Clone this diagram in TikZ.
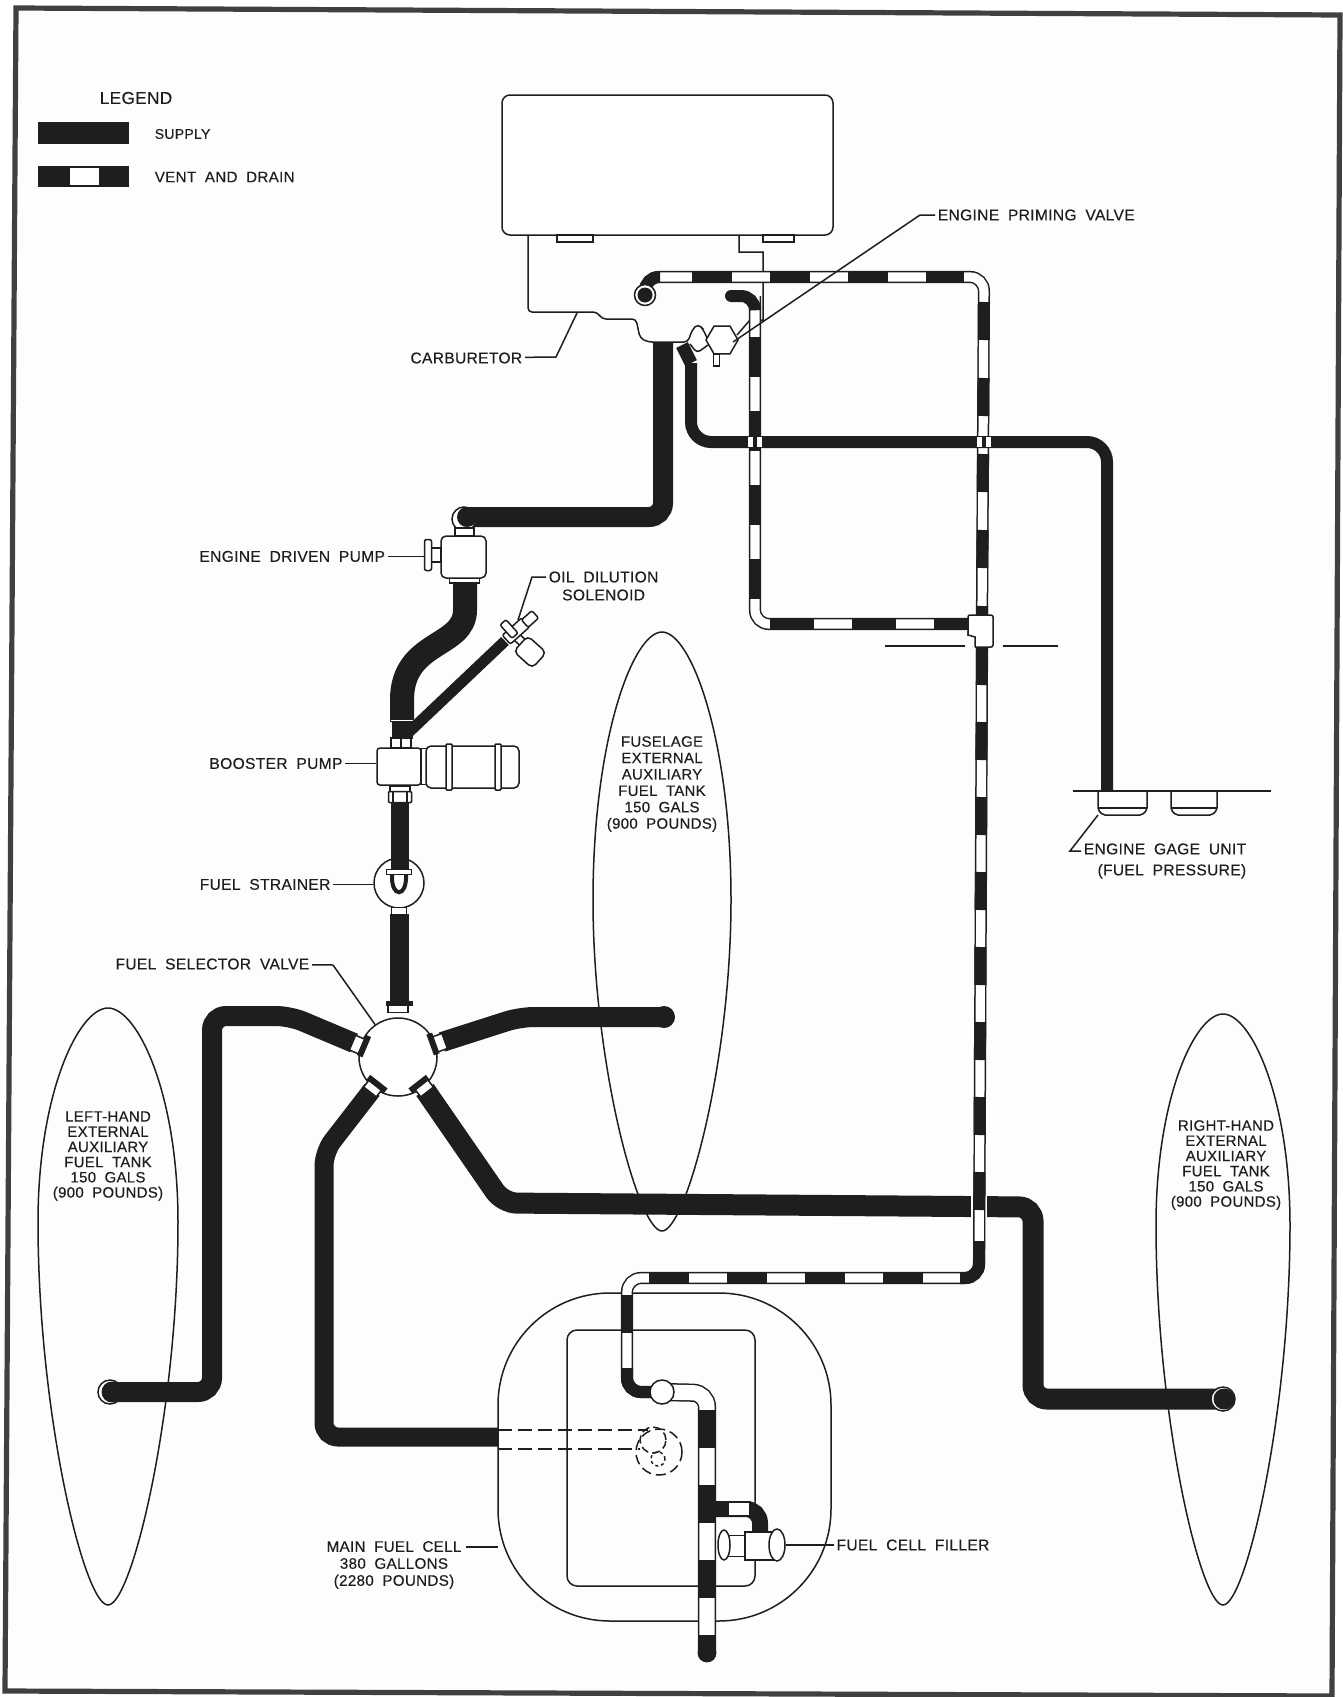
\documentclass[tikz,border=0pt]{standalone}
\usepackage{fontspec}
\setmainfont[LetterSpace=2,WordSpace=1.9,FakeBold=0.25]{Liberation Sans}
\usetikzlibrary{positioning, calc, shapes.geometric}
\definecolor{ink}{HTML}{1E1E1E}
\definecolor{paper}{HTML}{FDFDFC}

\begin{document}
\begin{tikzpicture}[x=0.5pt, y=-0.5pt,
    thin line/.style={draw=ink, line width=0.75pt},
    part/.style={rectangle, thin line, fill=white, inner sep=0pt, rounded corners=2.5pt},
    flat/.style={rectangle, thin line, fill=white, inner sep=0pt},
    supply/.style={draw=ink, line width=10pt, rounded corners=7pt},
    ventbase/.style={draw=ink, line width=0.75pt, double=white, double distance=4.6pt, rounded corners=7pt},
    ventrun/.style={draw=ink, line width=6pt, rounded corners=7pt},
    portbar/.style={rectangle, fill=ink, inner sep=0pt, minimum width=3pt, minimum height=11pt},
    portneck/.style={flat, minimum width=6pt, minimum height=8pt},
    ring/.style={circle, thin line, fill=white, inner sep=0pt, minimum size=12pt},
    blob/.style={circle, fill=ink, inner sep=0pt, minimum size=10pt},
    leader/.style={thin line},
    lbl/.style={font=\fontsize{7.8}{9}\selectfont, inner sep=1.2pt, align=center, text=ink},
    tanklbl/.style={font=\fontsize{7.5}{7.6}\selectfont, inner sep=0pt, align=center, text=ink},
    celllbl/.style={font=\fontsize{7.6}{8.5}\selectfont, inner sep=1.2pt, align=center, text=ink},
  ]
    \useasboundingbox (0,0) rectangle (1343,1697);
    \fill[white] (0,0) rectangle (1343,1697);
    \fill[paper] (16,8) -- (1340,15) -- (1332,1696) -- (5,1691) -- cycle;
    \draw[draw=ink!85, line width=2.6pt] (16,8) -- (1340,15) -- (1332,1696) -- (5,1691) -- cycle;

    % legend
    \node[lbl, font=\fontsize{8.6}{9}\selectfont] (legendtitle) at (136,98) {LEGEND};
    \node[rectangle, fill=ink, inner sep=0pt, minimum width=45.5pt, minimum height=11pt] (legsupply) at (83.5,133) {};
    \node[rectangle, fill=ink, inner sep=0pt, minimum width=45.5pt, minimum height=10.5pt] (legvent) at (83.5,176.5) {};
    \node[rectangle, fill=white, inner sep=0pt, minimum width=14.5pt, minimum height=8.5pt] (legwhite) at (84.5,176.5) {};
    \node[celllbl, anchor=west, font=\fontsize{7}{8}\selectfont] (legsupplytxt) at (152,134) {SUPPLY};
    \node[celllbl, anchor=west] (legventtxt) at (152,177) {VENT AND DRAIN};

    % carburetor
    \node[part, rounded corners=4pt, minimum width=165.5pt, minimum height=70pt] (carbtop) at (667.5,165) {};
    \node[flat, minimum width=18pt, minimum height=3.5pt] (tabl) at (575,238.5) {};
    \node[flat, minimum width=15.5pt, minimum height=3.5pt] (tabr) at (778.5,238.5) {};
    \draw[thin line, rounded corners=2pt] (528,235) -- (528,312) -- (597,312) -- (602,319) -- (636,319)
      -- (640,338) -- (648,342) -- (688,342) -- (692,330) -- (698,324) -- (703,329) -- (707,338);
    \draw[thin line] (739,235) -- (739,252) -- (763,252) -- (763,320) -- (750,320) -- (737,335);
    \draw[thin line, rounded corners=2pt] (690,344) -- (697,353) -- (708,345);

    % tanks
    \foreach \cx/\ctop/\cmid/\cbot/\hw in {108/1008/1222/1605/70, 1223/1014/1225/1605/67, 662/632/900/1231/69}{
      \draw[thin line] (\cx,\ctop)
        .. controls ({\cx+0.42*\hw},\ctop) and ({\cx+\hw},{\cmid-0.6*(\cmid-\ctop)}) .. ({\cx+\hw},\cmid)
        .. controls ({\cx+\hw},{\cmid+0.5*(\cbot-\cmid)}) and ({\cx+0.34*\hw},\cbot) .. (\cx,\cbot)
        .. controls ({\cx-0.34*\hw},\cbot) and ({\cx-\hw},{\cmid+0.5*(\cbot-\cmid)}) .. ({\cx-\hw},\cmid)
        .. controls ({\cx-\hw},{\cmid-0.6*(\cmid-\ctop)}) and ({\cx-0.42*\hw},\ctop) .. (\cx,\ctop);
    }
    \node[tanklbl] (lefttank) at (108,1156) {LEFT-HAND\\EXTERNAL\\AUXILIARY\\FUEL TANK\\150 GALS\\(900 POUNDS)};
    \node[tanklbl] (righttank) at (1226,1165) {RIGHT-HAND\\EXTERNAL\\AUXILIARY\\FUEL TANK\\150 GALS\\(900 POUNDS)};
    \node[tanklbl, font=\fontsize{7.5}{8.2}\selectfont] (fuseltank) at (662,784) {FUSELAGE\\EXTERNAL\\AUXILIARY\\FUEL TANK\\150 GALS\\(900 POUNDS)};

    % main fuel cell
    \node[rectangle, thin line, inner sep=0pt, rounded corners=56pt, minimum width=166.5pt, minimum height=164pt] (maincell) at (664.5,1457) {};
    \node[rectangle, thin line, inner sep=0pt, rounded corners=5pt, minimum width=94pt, minimum height=128pt] (innercell) at (661,1458) {};
    \draw[thin line, dashed, dash pattern=on 7pt off 3pt] (498,1430) -- (648,1430);
    \draw[thin line, dashed, dash pattern=on 7pt off 3pt] (498,1449) -- (640,1449);
    \draw[thin line, dashed, dash pattern=on 5pt off 2.5pt] (659,1452) circle (11.5pt);
    \draw[thin line, dashed, dash pattern=on 4pt off 2pt] (653,1440) circle (6.5pt);
    \draw[thin line, dashed, dash pattern=on 1.5pt off 1.5pt] (658,1459) circle (3.5pt);

    % gage units and lines
    \draw[thin line] (1073,791) -- (1271,791);
    \draw[thin line] (885,646) -- (965,646);
    \draw[thin line] (1003,646) -- (1058,646);
    \foreach \gx/\gw in {1098/1147, 1171/1217}{
      \draw[thin line, rounded corners=1pt] (\gx,791) -- (\gx,810) -- ({\gx+5},815) -- ({\gw-5},815) -- (\gw,810) -- (\gw,791);
      \draw[thin line] (\gx,808) -- (\gw,808);
    }
    \coordinate (gagecorner) at (1107,442);
    \coordinate (gagetop) at (1107,790);

    % selector valve
    \node[circle, thin line, fill=white, inner sep=0pt, minimum size=39pt] (selector) at (398,1057) {};

    % supply
    \coordinate (carbout) at (663,342);
    \coordinate (carbbend) at (663,517);
    \coordinate (elbow) at (466,517);
    \draw[supply] (carbout) -- (carbbend) -- (elbow);
    \coordinate (lefttee) at (354,1043);
    \coordinate (leftbendb) at (290,1016);
    \coordinate (leftbendc) at (212,1016);
    \coordinate (leftbendd) at (212,1392);
    \coordinate (leftend) at (112,1392);
    \draw[supply] (lefttee) -- (leftbendb) -- (leftbendc) -- (leftbendd) -- (leftend);
    \coordinate (fuseltee) at (442,1042);
    \coordinate (fuselbend) at (520,1017);
    \coordinate (fuselend) at (662,1017);
    \draw[supply] (fuseltee) -- (fuselbend) -- (fuselend);
    \coordinate (celltee) at (372,1090);
    \coordinate (cellbendb) at (324,1152);
    \coordinate (cellbendc) at (324,1437);
    \coordinate (cellend) at (498,1437);
    \draw[supply, line width=9.5pt] (celltee) -- (cellbendb) -- (cellbendc) -- (cellend);
    \coordinate (righttee) at (425,1090);
    \coordinate (rightbendb) at (503,1203);
    \coordinate (rightbendc) at (1033,1207);
    \coordinate (rightbendd) at (1033,1399);
    \coordinate (rightend) at (1223,1399);
    \draw[supply, line width=10.5pt] (righttee) -- (rightbendb) -- (rightbendc) -- (rightbendd) -- (rightend);
    \node[rectangle, fill=paper, inner sep=0pt, minimum width=8pt, minimum height=14pt] (ventgap) at (979,1206) {};

    \node[ring] (leftring) at (110,1392) {};
    \node[blob, minimum size=10.5pt] (leftblob) at (112,1392) {};
    \node[ring] (rightring) at (1223,1399) {};
    \node[blob, minimum size=10.5pt] (rightblob) at (1224,1399) {};
    \node[blob, minimum size=11pt] (fuselblob) at (664,1017) {};
    \node[portneck, rotate=-23] (neckul) at (358,1045) {};
    \node[portbar, rotate=-23] (barul) at (364,1046) {};
    \node[portneck, rotate=20] (neckur) at (439,1043) {};
    \node[portbar, rotate=20] (barur) at (433,1044) {};
    \node[portneck, rotate=52, minimum width=5pt] (neckll) at (373,1088) {};
    \node[portbar, rotate=52] (barll) at (377,1084) {};
    \node[portneck, rotate=-52, minimum width=5pt] (necklr) at (424,1088) {};
    \node[portbar, rotate=-52] (barlr) at (419,1084) {};
    \node[flat, minimum width=10pt, minimum height=3.5pt] (necktop) at (398,1009) {};
    \node[rectangle, fill=ink, inner sep=0pt, minimum width=13.5pt, minimum height=2.5pt] (bartop) at (399,1003) {};

    % vent and drain
    \coordinate (ventstart) at (645,295);
    \coordinate (ventbendtl) at (645,277);
    \coordinate (ventbendtr) at (984,277);
    \coordinate (teeup) at (982,616);
    \coordinate (teedown) at (982,647);
    \coordinate (ventbendbr) at (979,1278);
    \coordinate (ventbendbl) at (627,1278);
    \coordinate (ventbendl) at (627,1392);
    \coordinate (floatball) at (662,1392);
    \draw[ventbase] (ventstart) -- (ventbendtl) -- (ventbendtr) -- (teeup) -- (teedown) -- (ventbendbr) -- (ventbendbl) -- (ventbendl) -- (floatball);
    \draw[ventrun] (ventstart) -- (ventbendtl) -- ++(15,0);
    \draw[ventrun, dash pattern=on 20pt off 19pt, dash phase=23pt] (660,277) -- (964,277);
    \draw[ventrun, dash pattern=on 19pt off 19pt] (984,302) -- (teeup);
    \draw[ventrun, dash pattern=on 19pt off 18.5pt] (teedown) -- (979,1242);
    \draw[ventrun] (979,1241) -- (ventbendbr) -- (960,1278);
    \draw[ventrun, dash pattern=on 20pt off 19pt] (649,1278) -- (925,1278);
    \draw[ventrun, dash pattern=on 19pt off 17.5pt] (627,1295) -- (627,1368);
    \draw[ventrun] (627,1368) -- (ventbendl) -- (652,1392);

    \coordinate (drainstart) at (731,296);
    \coordinate (drainbendt) at (755,296);
    \coordinate (drainbendb) at (755,624);
    \coordinate (teeleft) at (969,624);
    \draw[ventbase] (drainbendt) -- (drainbendb) -- (teeleft);
    \draw[ventrun, line cap=round] (drainstart) -- (drainbendt) -- (755,307);
    \draw[ventrun, dash pattern=on 20pt off 17pt] (755,337) -- (755,600);
    \draw[ventrun, dash pattern=on 22pt off 19pt] (770,624) -- (teeleft);

    \node[rectangle, fill=white, thin line, inner sep=0pt, rounded corners=1pt, minimum width=12.5pt, minimum height=16pt] (teebody) at (980.5,631) {};
    \fill[paper] (967,636) rectangle (975,648);
    \draw[thin line] (968,631) -- (968,635) -- (975,637) -- (975,647);

    % float chamber and drain leg
    \coordinate (drainbend) at (707,1393);
    \coordinate (drainend) at (707,1653);
    \draw[ventbase, double distance=7.6pt] (floatball) -- (drainbend) -- (drainend);
    \node[ring] (floatring) at (floatball) {};
    \draw[ventrun, line width=9pt, dash pattern=on 19pt off 18.5pt] (707,1410) -- (drainend);
    \node[blob, minimum size=9.4pt] (drainblob) at (drainend) {};
    \coordinate (brancha) at (716,1509);
    \coordinate (branchb) at (760,1509);
    \coordinate (branchc) at (760,1532);
    \draw[supply, line width=8pt] (brancha) -- (branchb) -- (branchc);
    \node[rectangle, fill=white, thin line, inner sep=0pt, minimum width=11pt, minimum height=7pt] (branchwhite) at (739,1509) {};

    % fuel cell filler
    \node[flat, minimum width=10pt, minimum height=10.5pt] (fillerstem) at (735,1546) {};
    \node[ellipse, thin line, fill=white, inner sep=0pt, minimum width=6pt, minimum height=15pt] (fillerflange) at (724,1545) {};
    \node[flat, minimum width=15pt, minimum height=14pt] (fillerbody) at (760,1546) {};
    \node[ellipse, thin line, fill=white, inner sep=0pt, minimum width=8pt, minimum height=16pt] (fillercap) at (777,1545) {};

    % engine gage line
    \coordinate (gagestart) at (682,345);
    \coordinate (gagekink) at (691,363);
    \coordinate (gagebend) at (691,442);
    \draw[draw=ink, line width=6.5pt] (gagestart) -- (gagekink);
    \draw[supply, line width=6pt, rounded corners=10pt] (gagekink) -- (gagebend) -- (gagecorner) -- (gagetop);
    \foreach \cname/\cx/\cy in {crossa/755/442, crossb/984/442}{
      \node[flat, minimum width=8pt, minimum height=5.5pt] (\cname) at (\cx,\cy) {};
      \draw[draw=ink, line width=2pt] (\cname.north) -- (\cname.south);
    }

    % priming valve
    \node[regular polygon, regular polygon sides=6, thin line, fill=white, inner sep=0pt, minimum size=16pt] (primevalve) at (722,340) {};
    \node[flat, minimum width=3pt, minimum height=6pt] (primestem) at (716.5,360) {};

    % carburetor inlet fittings
    \node[ring, minimum size=10.5pt] (ventring) at (645,295) {};
    \node[blob, minimum size=7.5pt] (ventblob) at (645,295) {};

    % engine driven pump
    \node[ring] (pumpring) at (464,519) {};
    \node[blob] (pumpblob) at (467,517) {};
    \draw[supply] (pumpblob) -- (500,517);
    \node[flat, minimum width=9.5pt, minimum height=4pt] (pumpneck) at (464.5,532) {};
    \node[flat, minimum width=15pt, minimum height=3pt] (pumprim) at (464.5,580) {};
    \node[part, minimum width=22.5pt, minimum height=21pt] (drivenpump) at (463.5,557) {};
    \node[flat, minimum width=5pt, minimum height=7pt] (pumpstem) at (436,555) {};
    \node[part, rounded corners=1pt, minimum width=3.5pt, minimum height=15.5pt] (pumpflange) at (428,555) {};

    % pipe to booster pump and oil dilution
    \coordinate (pumpout) at (465,582);
    \coordinate (boostin) at (402,722);
    \draw[draw=ink, line width=12pt] (pumpout) -- (465,610) .. controls (465,648) and (402,640) .. (402,700) -- (boostin);
    \draw[draw=white, line width=0.5pt] (391,720) -- (413,720);
    \draw[draw=ink, line width=10.5pt] (boostin) -- (402,739);
    \coordinate (oilbase) at (408,733);
    \coordinate (oiltop) at (505,641);
    \draw[draw=ink, line width=5.5pt] (oilbase) -- (oiltop);
    \node[part, rounded corners=0.5pt, rotate=-42, minimum width=8pt, minimum height=4pt] (solstem) at (521,641) {};
    \node[part, rounded corners=1pt, rotate=42, minimum width=13pt, minimum height=6pt] (soltube) at (516,631) {};
    \node[part, rounded corners=1pt, rotate=42, minimum width=7pt, minimum height=5pt] (soltip) at (530,619) {};
    \node[part, rounded corners=1pt, rotate=42, minimum width=4pt, minimum height=9pt] (solflange) at (509,629) {};
    \node[part, rotate=-42, minimum width=12.5pt, minimum height=10.5pt] (solbox) at (530,652) {};

    % booster pump
    \node[flat, minimum width=10pt, minimum height=5pt] (boostneck) at (401,743) {};
    \draw[thin line] (401,738) -- (401,748);
    \node[part, rounded corners=1.5pt, minimum width=22pt, minimum height=18.5pt] (boostpump) at (399,766.5) {};
    \node[flat, minimum width=3pt, minimum height=18pt] (motorneck) at (424,766.5) {};
    \node[part, minimum width=46.5pt, minimum height=21pt] (motor) at (472.5,767) {};
    \node[part, rounded corners=0.5pt, minimum width=3pt, minimum height=23pt] (bandl) at (449,767) {};
    \node[part, rounded corners=0.5pt, minimum width=3pt, minimum height=23pt] (bandr) at (498,767) {};
    \node[flat, minimum width=10pt, minimum height=4pt] (boostout) at (400,790) {};
    \node[part, rounded corners=0.5pt, minimum width=11.5pt, minimum height=5.5pt] (boostnut) at (400,797) {};
    \draw[thin line] (393,792) -- (393,802);
    \draw[thin line] (407,792) -- (407,802);

    % strainer
    \node[circle, thin line, fill=white, inner sep=0pt, minimum size=25pt] (strainer) at (399,883) {};
    \coordinate (strainin) at (400,803);
    \coordinate (strainbar) at (400,871);
    \draw[draw=ink, line width=9pt] (strainin) -- (strainbar);
    \node[flat, minimum width=12.5pt, minimum height=2.5pt] (strainlip) at (399,872) {};
    \draw[draw=ink, line width=2pt] (392,875) .. controls (391,898) and (407,898) .. (406,875);
    \node[flat, minimum width=7.5pt, minimum height=3.5pt] (strainout) at (399,911) {};
    \coordinate (selin) at (399,914);
    \coordinate (seltop) at (399,1002);
    \draw[draw=ink, line width=9.5pt] (selin) -- (seltop);

    % callouts
    \node[lbl, anchor=west] (primelbl) at (935,215) {ENGINE PRIMING VALVE};
    \coordinate (primeknee) at (920,215);
    \draw[leader] (primelbl) -- (primeknee) -- (733,342);
    \node[lbl, anchor=east] (carblbl) at (525,358) {CARBURETOR};
    \coordinate (carbknee) at (556,357);
    \draw[leader] (carblbl) -- (carbknee) -- (577,313);
    \node[lbl, left=18pt of pumpflange, yshift=-0.7pt] (drivenlbl) {ENGINE DRIVEN PUMP};
    \draw[leader] (drivenlbl) -- (drivenlbl -| pumpflange.west);
    \node[lbl, anchor=west] (oillbl) at (546,586) {OIL DILUTION\\SOLENOID};
    \coordinate (oilknee) at (532,577);
    \draw[leader] (oillbl.west |- oilknee) -- (oilknee) -- (518,620);
    \node[lbl, left=15.5pt of boostpump, yshift=1.5pt] (boostlbl) {BOOSTER PUMP};
    \draw[leader] (boostlbl) -- (boostlbl -| boostpump.west);
    \node[lbl, left=20pt of strainer, yshift=-0.7pt] (strainlbl) {FUEL STRAINER};
    \draw[leader] (strainlbl) -- (strainlbl -| strainer.west);
    \node[lbl, anchor=east] (selectlbl) at (312,964) {FUEL SELECTOR VALVE};
    \coordinate (selectknee) at (333,965);
    \draw[leader] (selectlbl) -- (selectknee) -- (selector);
    \node[celllbl] (celllbl) at (394,1565) {MAIN FUEL CELL\\380 GALLONS\\(2280 POUNDS)};
    \draw[leader] (466,1547) -- (498,1547);
    \node[lbl, right=24pt of fillercap] (fillerlbl) {FUEL CELL FILLER};
    \draw[leader] (fillerlbl) -- (fillercap);
    \node[lbl, anchor=east, align=right] (gagelbl) at (1249,861) {ENGINE GAGE UNIT\\[1.5pt](FUEL PRESSURE)};
    \coordinate (gageknee) at (1070,851);
    \draw[leader] (gagelbl.west |- gageknee) -- (gageknee) -- (1098,815);
\end{tikzpicture}
\end{document}
